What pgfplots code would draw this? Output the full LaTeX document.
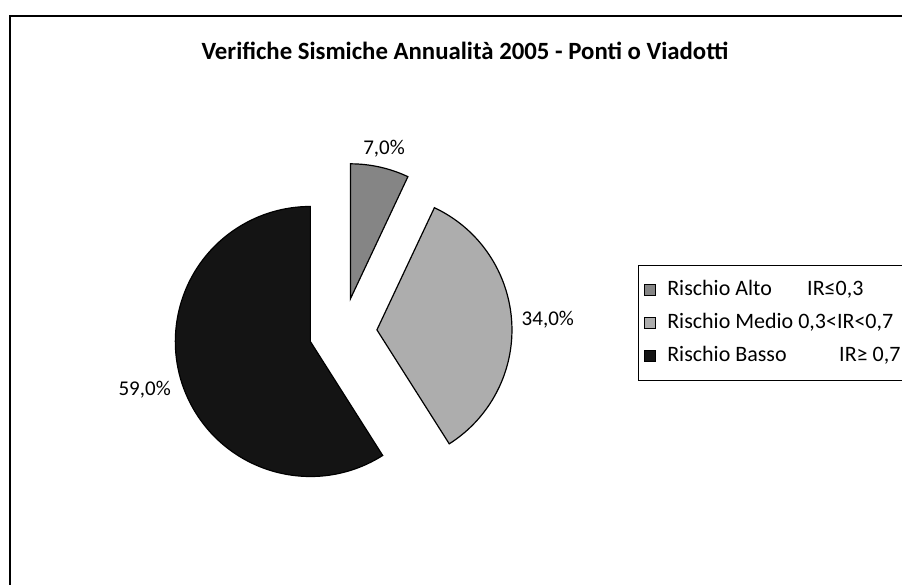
\documentclass[border=0pt]{standalone}
\usepackage{pgfplots}
\pgfplotsset{compat=1.18}
\usepackage{pgfplotstable}
\usepackage{fontspec}
\setmainfont{Carlito}

% share of bridges per risk class (%)
\pgfplotstableread{
label value
Alto  7.0
Medio 34.0
Basso 59.0
}\piedata

\definecolor{altoc}{gray}{0.52}
\definecolor{medioc}{gray}{0.68}
\definecolor{bassoc}{gray}{0.08}

\begin{document}
\begin{tikzpicture}
% page is 902 x 585 px, 1 px = 0.5pt
\useasboundingbox (0,0) rectangle (451pt,292.5pt);
\clip (0,0) rectangle (451pt,292.5pt);
\pgfplotstablegetelem{0}{value}\of\piedata \let\va\pgfplotsretval
\pgfplotstablegetelem{1}{value}\of\piedata \let\vb\pgfplotsretval
\pgfplotstablegetelem{2}{value}\of\piedata \let\vc\pgfplotsretval
% slices start at 12 o'clock, clockwise
\pgfmathsetmacro\aA{90}
\pgfmathsetmacro\aB{\aA-3.6*\va}
\pgfmathsetmacro\aC{\aB-3.6*\vb}
\pgfmathsetmacro\aD{\aC-3.6*\vc}
\pgfmathsetmacro\mA{(\aA+\aB)/2}
\pgfmathsetmacro\mB{(\aB+\aC)/2}
\pgfmathsetmacro\mC{(\aC+\aD)/2}
\pgfmathsetmacro\lA{\mA+180}
\pgfmathsetmacro\lB{\mB+180}
\pgfmathsetmacro\lC{\mC+180}
\def\R{67.5pt}% radius
\def\E{17pt}% explosion
\def\G{1.5pt}% label gap
\pgfkeys{/pgf/number format/.cd,use comma,fixed,fixed zerofill,precision=1,assume math mode=true}
\begin{axis}[
  at={(0,0)}, anchor=south west, scale only axis,
  x=0.5pt, y=0.5pt, xmin=0, xmax=902, ymin=0, ymax=585,
  hide axis, clip=false,
  legend style={at={(axis cs:638,320)}, anchor=north west, draw=black, line width=0.5pt,
    font=\fontsize{11}{13}\selectfont, inner xsep=3pt, inner ysep=5.5pt, row sep=3pt,
    nodes={inner sep=1.5pt, text height=8pt, text depth=2.5pt}},
  legend cell align=left,
  legend image code/.code={\draw[#1, line width=0.3pt] (0pt,-2.6pt) rectangle (5.2pt,2.6pt); \path (9.5pt,0);},
]
% frame
\draw[line width=1pt] (axis cs:10,569) rectangle (axis cs:930,-30);
% title
\node[font=\bfseries\fontsize{12.4}{14}\selectfont] at (axis cs:465,534)
  {Verifiche Sismiche Annualità 2005 - Ponti o Viadotti};
% slices
\fill[altoc, draw=black, line width=0.6pt] (axis cs:343,253) ++(\mA:\E) -- ++(\aA:\R)
  arc[start angle=\aA, end angle=\aB, radius=\R] -- cycle;
\fill[medioc, draw=black, line width=0.6pt] (axis cs:343,253) ++(\mB:\E) -- ++(\aB:\R)
  arc[start angle=\aB, end angle=\aC, radius=\R] -- cycle;
\fill[bassoc, draw=black, line width=0.6pt] (axis cs:343,253) ++(\mC:\E) -- ++(\aC:\R)
  arc[start angle=\aC, end angle=\aD, radius=\R] -- cycle;
% labels
\path (axis cs:343,253) ++(\mA:\E) ++(\mA:\R) ++(\mA:\G)
  node[anchor=\lA, font=\fontsize{10.5}{12}\selectfont] {\pgfmathprintnumber{\va}\%};
\path (axis cs:343,253) ++(\mB:\E) ++(\mB:\R) ++(\mB:\G)
  node[anchor=\lB, font=\fontsize{10.5}{12}\selectfont] {\pgfmathprintnumber{\vb}\%};
\path (axis cs:343,253) ++(\mC:\E) ++(\mC:\R) ++(\mC:\G)
  node[anchor=\lC, font=\fontsize{10.5}{12}\selectfont] {\pgfmathprintnumber{\vc}\%};
% legend
\addlegendimage{fill=altoc, draw=black}
\addlegendentry{\makebox[70pt][l]{Rischio Alto}IR≤0,3}
\addlegendimage{fill=medioc, draw=black}
\addlegendentry{Rischio Medio 0,3<IR<0,7}
\addlegendimage{fill=bassoc, draw=black}
\addlegendentry{\makebox[86pt][l]{Rischio Basso}IR≥ 0,7}
\end{axis}
\end{tikzpicture}
\end{document}
